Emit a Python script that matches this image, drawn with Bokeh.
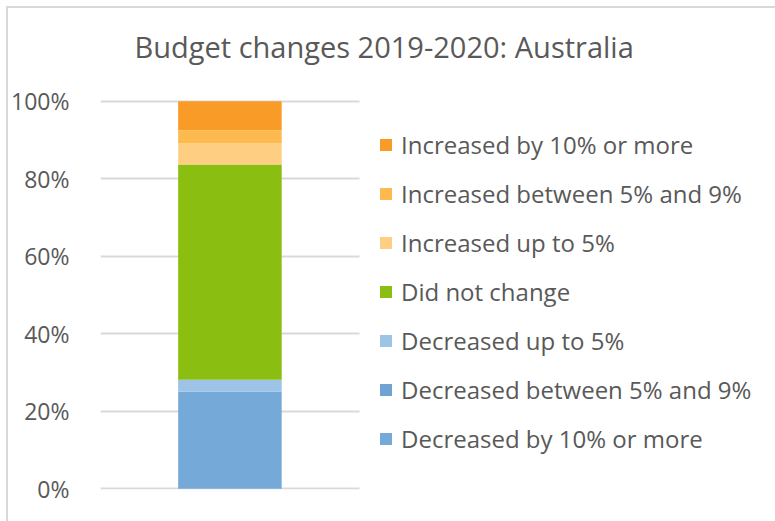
from bokeh.plotting import figure
from bokeh.models import (ColumnDataSource, Range1d, Legend, LegendItem,
                          NumeralTickFormatter, FixedTicker, Label)
from bokeh.embed import file_html
from bokeh.resources import INLINE

# ---- data ----
title_text = "Budget changes 2019-2020: Australia"
countries = ["Australia"]
series_names = [
    "Decreased by 10% or more",
    "Decreased between 5% and 9%",
    "Decreased up to 5%",
    "Did not change",
    "Increased up to 5%",
    "Increased between 5% and 9%",
    "Increased by 10% or more",
]
dec_10_plus = [0.250]
dec_5_9 = [0.0]
dec_up_to_5 = [0.031]
no_change = [0.556]
inc_up_to_5 = [0.054]
inc_5_9 = [0.034]
inc_10_plus = [0.075]
y_ticks = [0.0, 0.2, 0.4, 0.6, 0.8, 1.0]
colors = ["#75AAD8", "#6FA3D3", "#9DC3E6", "#8ABE11", "#FECF83", "#FDBB4F", "#F99B27"]

keys = ["s0", "s1", "s2", "s3", "s4", "s5", "s6"]
bar_x = [i + 0.5 for i in range(len(countries))]
src = ColumnDataSource(dict(x=bar_x, country=countries, s0=dec_10_plus, s1=dec_5_9, s2=dec_up_to_5,
                            s3=no_change, s4=inc_up_to_5, s5=inc_5_9, s6=inc_10_plus))

FONT = "Open Sans"
GREY = "#595959"

n_cat = len(countries)
# the frame reaches to the top of the canvas; the room above 100% holds the title
p = figure(x_range=Range1d(0, n_cat * 678 / 260), y_range=Range1d(-0.002, 1.2395),
           width=767, height=513, output_backend="svg", toolbar_location=None,
           min_border_left=89, min_border_right=0, min_border_top=0, min_border_bottom=32)
p.styles = {"margin-left": "8px", "margin-top": "8px", "outline": "2px solid #D9D9D9"}

renderers = p.vbar_stack(keys, x="x", width=0.4, color=colors, line_color=None, source=src)

p.add_layout(Label(x=0, y=max(y_ticks), x_offset=34, y_offset=55, text=title_text,
                   text_baseline="alphabetic", text_align="left",
                   text_font=FONT, text_font_size="29px", text_color=GREY))

p.xaxis.visible = False
p.xgrid.visible = False
p.ygrid.grid_line_color = "#D9D9D9"
p.ygrid.grid_line_width = 2
p.ygrid.cross_bounds = (0, n_cat)
p.outline_line_color = None

ya = p.yaxis[0]
ya.ticker = FixedTicker(ticks=y_ticks)
ya.formatter = NumeralTickFormatter(format="0%")
ya.axis_line_color = None
ya.major_tick_line_color = None
ya.minor_tick_line_color = None
ya.major_label_standoff = 25
ya.major_label_text_font = FONT
ya.major_label_text_font_size = "23px"
ya.major_label_text_color = GREY

items = [LegendItem(label=n, renderers=[r]) for n, r in zip(series_names, renderers)][::-1]
legend = Legend(items=items, location=(278, 34), padding=0, margin=0,
                glyph_width=15, glyph_height=15, label_height=32, spacing=16,
                label_standoff=8, border_line_color=None, background_fill_alpha=0,
                label_text_font=FONT, label_text_font_size="24px", label_text_color=GREY)
p.add_layout(legend)

open("out.html", "w").write(file_html(p, INLINE))
